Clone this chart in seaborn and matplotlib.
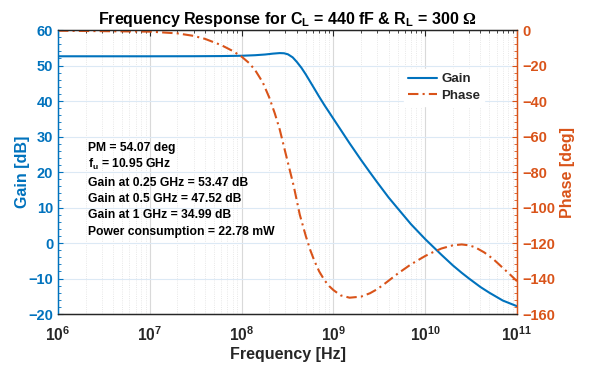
import numpy as np
import matplotlib
matplotlib.use("Agg")
import matplotlib.pyplot as plt
import matplotlib.ticker as mticker
import seaborn as sns

# valores (frecuencia en Hz, ganancia en dB, fase en grados)
freq_gain = [1e6, 1e7, 3e7, 6e7, 1e8, 1.4e8, 1.8e8, 2.2e8, 2.6e8, 2.9e8, 3.2e8,
             3.6e8, 4e8, 4.5e8, 5e8, 6e8, 7e8, 8e8, 9e8, 1e9, 1.2e9, 1.5e9,
             2e9, 2.5e9, 3e9, 4e9, 5e9, 7e9, 1e10, 1.5e10, 2e10, 2.5e10, 3e10,
             4e10, 5e10, 7e10, 1e11]
gain = [52.6, 52.6, 52.62, 52.66, 52.75, 52.9, 53.1, 53.35, 53.5, 53.45, 53.15,
        52.3, 51.0, 49.3, 47.5, 44.1, 41.2, 38.8, 36.8, 35.0, 31.9, 28.1,
        23.4, 19.9, 17.1, 12.8, 9.8, 5.3, 1.1, -3.3, -6.3, -8.4, -10.0,
        -12.4, -14.0, -16.2, -17.8]

freq_phase = [1e6, 1e7, 2e7, 3e7, 4e7, 6e7, 8e7, 1e8, 1.2e8, 1.4e8, 1.7e8, 2e8,
              2.3e8, 2.6e8, 3.1e8, 3.7e8, 4.3e8, 5e8, 5.6e8, 6.2e8, 7e8, 8e8,
              9e8, 1e9, 1.2e9, 1.5e9, 2e9, 2.5e9, 3e9, 3.5e9, 4e9, 5e9, 7e9,
              1e10, 1.2e10, 1.5e10, 2e10, 2.5e10, 3e10, 3.5e10, 4.4e10, 5.5e10,
              7e10, 8.5e10, 1e11]
phase = [-0.4, -0.9, -1.9, -3.3, -5.0, -8.5, -11.8, -15, -18.5, -22.5, -29.5,
         -38, -47, -56, -72, -88, -104, -116, -124, -130, -136, -141, -144.3,
         -146.5, -149.5, -150.8, -150.2, -148.3, -146, -143.5, -141.2, -137.3,
         -132, -127.3, -125.3, -123.1, -121.3, -120.8, -121.3, -122.4, -125.3,
         -129, -134, -138, -141.5]

info_lines = ["PM = 54.07 deg",
              "f$_\\mathbf{u}$ = 10.95 GHz",
              "Gain at 0.25 GHz = 53.47 dB",
              "Gain at 0.5 GHz = 47.52 dB",
              "Gain at 1 GHz = 34.99 dB",
              "Power consumption = 22.78 mW"]
info_y = [0.585, 0.526, 0.461, 0.405, 0.349, 0.289]

azul = "#0072BD"
naranja = "#D95319"
gris = "#262626"

sns.set_style("white")
plt.rcParams['font.family'] = ['Liberation Sans', 'DejaVu Sans']
plt.rcParams['font.weight'] = 'bold'
plt.rcParams['axes.labelweight'] = 'bold'
plt.rcParams['mathtext.fontset'] = 'custom'
plt.rcParams['mathtext.rm'] = 'Liberation Serif'
plt.rcParams['mathtext.bf'] = 'Liberation Sans:bold'
plt.rcParams['mathtext.default'] = 'bf'

fig = plt.figure(figsize=(5.9, 3.66), dpi=100)
ax = fig.add_axes([0.0983, 0.142, 0.778, 0.776])
ax2 = ax.twinx()

sns.lineplot(x=freq_gain, y=gain, ax=ax, color=azul, linewidth=1.5, label="Gain", legend=False)
sns.lineplot(x=freq_phase, y=phase, ax=ax2, color=naranja, linewidth=1.5,
             linestyle=(0, (5, 2, 1, 2)), label="Phase", legend=False)

ax.set_xscale("log")
ax.set_xlim(1e6, 1e11)
ax.set_ylim(-20, 60)
ax2.set_ylim(-160, 0)

ax.xaxis.set_major_locator(mticker.LogLocator(base=10, numticks=12))
ax.xaxis.set_minor_locator(mticker.LogLocator(base=10, subs=np.arange(2, 10), numticks=12))
ax.xaxis.set_major_formatter(mticker.FuncFormatter(lambda v, p: r"$\mathbf{10^{%d}}$" % round(np.log10(v))))
ax.set_yticks(np.arange(-20, 61, 10))
ax.yaxis.set_minor_locator(mticker.MultipleLocator(2))
ax2.set_yticks(np.arange(-160, 1, 20))
ax2.yaxis.set_minor_locator(mticker.MultipleLocator(4))

# rejilla estilo matlab
ax.grid(True, which="major", axis="x", color="#d9d9d9", linewidth=0.8)
ax.grid(True, which="minor", axis="x", color="#e0e0e0", linewidth=0.6, linestyle=":")
ax.grid(True, which="major", axis="y", color="#dce9f5", linewidth=0.8)
ax.set_axisbelow(True)

ax.tick_params(axis="x", which="both", direction="in", top=True, colors=gris, labelsize=11.2, pad=8)
ax.tick_params(axis="x", which="major", length=4)
ax.tick_params(axis="x", which="minor", length=2.5)
ax.tick_params(axis="y", which="both", direction="in", colors=azul, labelsize=10.5)
ax.tick_params(axis="y", which="minor", length=2.5)
ax2.tick_params(axis="y", which="both", direction="in", colors=naranja, labelsize=10.5)
ax2.tick_params(axis="y", which="minor", length=2.5)
for lab in ax.get_yticklabels() + ax2.get_yticklabels():
    lab.set_fontweight("bold")

for a in (ax, ax2):
    a.spines["top"].set_color(gris)
    a.spines["bottom"].set_color(gris)
    a.spines["left"].set_color(azul)
    a.spines["right"].set_color(naranja)
    for s in a.spines.values():
        s.set_linewidth(0.9)

ax.set_xlabel("Frequency [Hz]", fontsize=11.5, color=gris, labelpad=2)
ax.set_ylabel("Gain [dB]", fontsize=11.5, color=azul)
ax2.set_ylabel("Phase [deg]", fontsize=11.5, color=naranja)
ax.yaxis.set_label_coords(-0.061, 0.5)
ax2.yaxis.set_label_coords(1.094, 0.5)
ax.set_title(r"Frequency Response for C$_\mathbf{L}$ = 440 fF & R$_\mathbf{L}$ = 300 $\mathrm{\Omega}$",
             fontsize=11.5, fontweight="bold", color="black", pad=4)

for t, yy in zip(info_lines, info_y):
    ax.text(0.065, yy, t, transform=ax.transAxes, fontsize=8.7, fontweight="bold",
            color="black", va="center", ha="left")

h1, l1 = ax.get_legend_handles_labels()
h2, l2 = ax2.get_legend_handles_labels()
leg = ax2.legend(h1 + h2, l1 + l2, loc="upper left", bbox_to_anchor=(0.74, 0.885),
                 frameon=True, facecolor="white", edgecolor="white", framealpha=1,
                 fancybox=False, fontsize=9.5, handlelength=2.2, handletextpad=0.3,
                 labelspacing=0.3, borderpad=0.3)
for txt in leg.get_texts():
    txt.set_fontweight("bold")

fig.savefig("out.png", dpi=100)
